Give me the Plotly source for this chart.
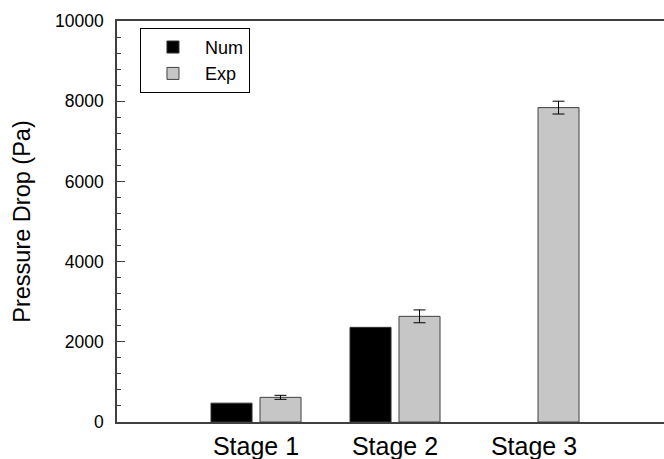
import plotly.graph_objects as go

categories = ["Stage 1", "Stage 2", "Stage 3"]
num_values = [470, 2360, None]
exp_values = [615, 2635, 7840]
exp_errors = [50, 160, 160]
x_pos = [0, 1, 2]
y_ticks = [0, 2000, 4000, 6000, 8000, 10000]
y_ticktext = ["0", "2000", "4000", "6000", "8000", "10000"]

FONT = "Liberation Sans, Arial, sans-serif"

fig = go.Figure()
fig.add_trace(go.Bar(
    x=x_pos, y=num_values, name="Num",
    marker=dict(color="black", line=dict(color="#303030", width=1)),
))
fig.add_trace(go.Bar(
    x=x_pos, y=exp_values, name="Exp",
    marker=dict(color="#c6c6c6", line=dict(color="#404040", width=1)),
    error_y=dict(type="data", array=exp_errors, visible=True,
                 color="black", thickness=1, width=6),
))

fig.update_layout(
    width=664, height=459,
    margin=dict(l=117, r=0, t=21, b=37, pad=0, autoexpand=False),
    paper_bgcolor="white", plot_bgcolor="white",
    barmode="group", bargap=0.295, bargroupgap=0.163,
    font=dict(family=FONT, color="black", size=17),
    showlegend=True,
    legend=dict(
        x=0.042, y=0.983, xanchor="left", yanchor="top",
        bordercolor="black", borderwidth=1, bgcolor="white",
        font=dict(size=18, family=FONT), itemwidth=54,
        tracegroupgap=0,
    ),
    xaxis=dict(
        range=[-1, 2.935], tickmode="array", tickvals=x_pos, ticktext=categories,
        showline=True, linecolor="#404040", linewidth=1.5, mirror=True,
        ticks="", showgrid=False, zeroline=False, automargin=False,
        tickfont=dict(size=25, family=FONT), ticklabelstandoff=1,
    ),
    yaxis=dict(
        range=[0, 10000], tickmode="array", tickvals=y_ticks, ticktext=y_ticktext,
        showline=True, linecolor="#404040", linewidth=1.5, automargin=False,
        ticks="inside", ticklen=8, tickwidth=1, tickcolor="#404040",
        minor=dict(dtick=400, ticks="inside", ticklen=4, tickwidth=1, tickcolor="#404040", showgrid=False),
        showgrid=False, zeroline=False,
        tickfont=dict(size=17.5, family=FONT), ticklabelstandoff=8,
        title=dict(text="Pressure Drop (Pa)", font=dict(size=23.5, family=FONT), standoff=18),
    ),
)

fig.write_html(
    "out.html",
    config={"displayModeBar": False},
    post_script="document.body.style.margin='0';document.body.style.overflow='hidden';",
)
